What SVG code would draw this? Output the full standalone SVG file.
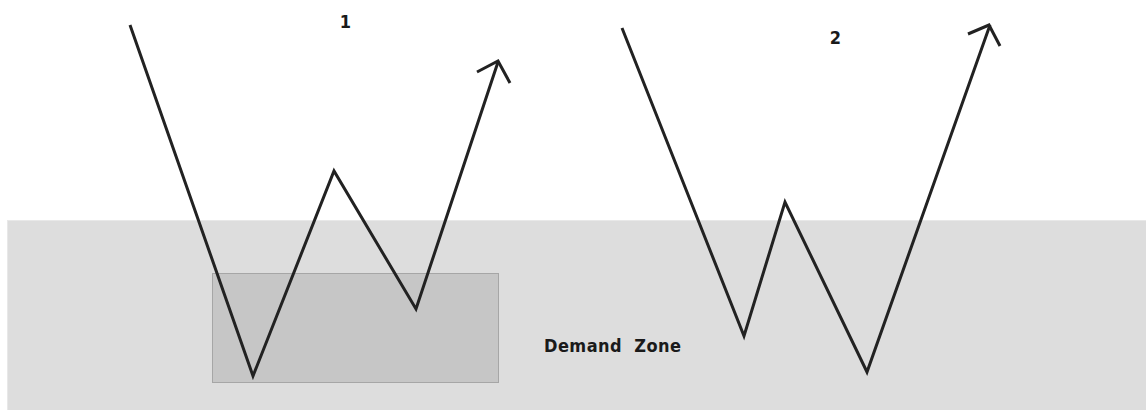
<svg xmlns="http://www.w3.org/2000/svg" width="1146" height="410" viewBox="0 0 1146 410">
<style>
.zone{fill:#dddddd;stroke:#e8e8e8;stroke-width:1}
.box{fill:#c6c6c6;stroke:#a6a6a6;stroke-width:1}
.wave{fill:none;stroke:#222222;stroke-width:3;stroke-linejoin:miter;stroke-linecap:butt}
.lbl{font-family:"DejaVu Sans Condensed","DejaVu Sans",sans-serif;font-weight:bold;font-size:18px;fill:#1a1a1a}
</style>
<rect width="1146" height="410" fill="#ffffff"/>
<g id="demand-zone-area">
<rect class="zone" x="7.5" y="220.5" width="1140" height="191"/>
</g>
<g id="demand-box">
<rect class="box" x="212.5" y="273.5" width="286" height="109"/>
</g>
<g id="connectors">
<polyline class="wave" points="130,25 253,376 334,171 416,309 498,62"/>
<polyline class="wave" points="477,72 498,61 510,83"/>
<polyline class="wave" points="622,28 744,336 785,202 867,372 990,25"/>
<polyline class="wave" points="968,34 989,25 1000,46"/>
</g>
<g id="label-1"><text class="lbl" x="345.5" y="28" text-anchor="middle">1</text></g>
<g id="label-2"><text class="lbl" x="835.5" y="44" text-anchor="middle">2</text></g>
<g id="label-demand"><text class="lbl" x="544" y="352" textLength="137" xml:space="preserve">Demand  Zone</text></g>
</svg>
